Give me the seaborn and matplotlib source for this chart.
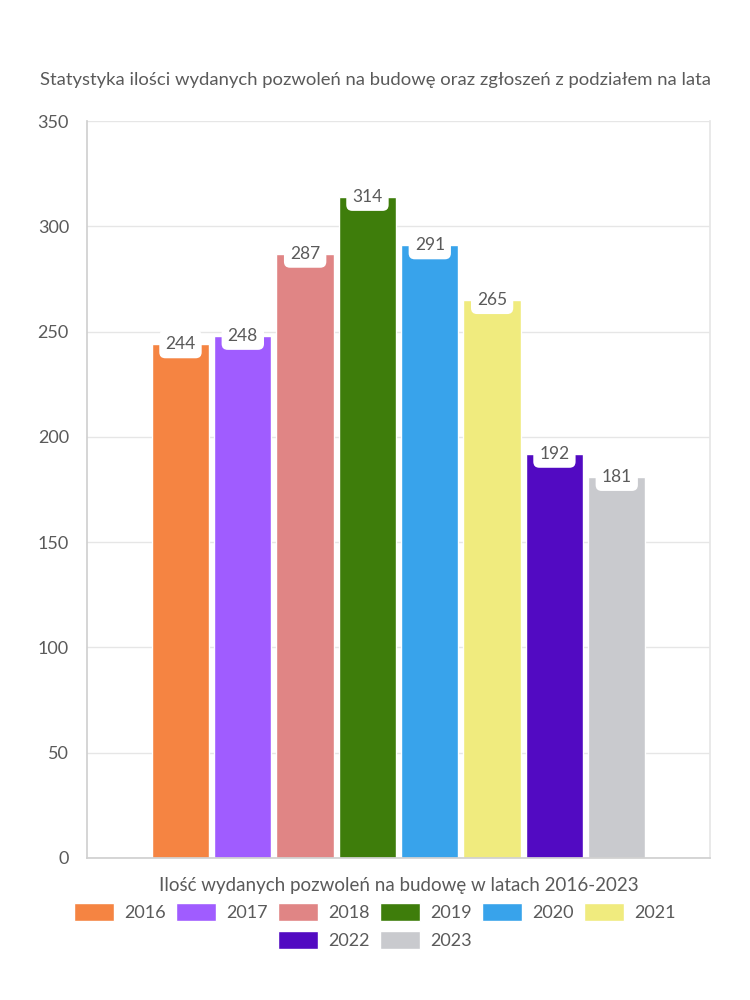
import matplotlib
matplotlib.use("Agg")
import matplotlib.pyplot as plt
import seaborn as sns
import pandas as pd

years = ["2016", "2017", "2018", "2019", "2020", "2021", "2022", "2023"]
values = [244, 248, 287, 314, 291, 265, 192, 181]
colors = ["#F58442", "#A05CFF", "#E08585", "#3E7D0B", "#38A3EB", "#F0EB7E", "#520AC2", "#C9CACE"]
group = "Ilość wydanych pozwoleń na budowę w latach 2016-2023"
title = "Statystyka ilości wydanych pozwoleń na budowę oraz zgłoszeń z podziałem na lata"
yticks = [0, 50, 100, 150, 200, 250, 300, 350]

df = pd.DataFrame({"grp": [group] * len(years), "year": years, "value": values})

sns.set_theme(style="white")
plt.rcParams["font.family"] = ["Lato", "DejaVu Sans"]
txt = "#5a5a5a"

fig = plt.figure(figsize=(7.5, 10), dpi=100)
ax = fig.add_axes([0.116, 0.142, 0.831, 0.737])

sns.barplot(data=df, x="grp", y="value", hue="year", palette=colors,
            width=0.8, gap=0.08, ax=ax, saturation=1, legend=True)

ax.set_ylim(0, 350)
ax.set_xlim(-0.5, 0.5)
ax.set_yticks(yticks)
ax.set_yticklabels([str(t) for t in yticks], fontsize=13, color=txt)
ax.tick_params(axis="y", length=10, color="#d0d0d0", width=1, pad=3)
ax.set_xticks([-0.5, 0.5])
ax.set_xticklabels(["", ""])
ax.tick_params(axis="x", length=8, color="#d0d0d0", width=1)
ax.yaxis.grid(True, color="#e6e6e6", linewidth=1)
ax.set_axisbelow(True)
ax.spines["left"].set_color("#d0d0d0")
ax.spines["bottom"].set_color("#d0d0d0")
ax.spines["right"].set_color("#e6e6e6")
ax.spines["top"].set_visible(False)
ax.set_ylabel("")
ax.set_xlabel(group, fontsize=13.5, color=txt, labelpad=2)

for cont in ax.containers:
    for bar in cont:
        h = bar.get_height()
        ax.annotate(f"{int(round(h))}", (bar.get_x() + bar.get_width() / 2, h),
                    ha="center", va="center", fontsize=12.5, color=txt,
                    bbox=dict(boxstyle="round,pad=0.35", fc="white", ec="none"))

handles, labels = ax.get_legend_handles_labels()
ax.get_legend().remove()

kw = dict(frameon=False, fontsize=13, handlelength=2.2, handleheight=1.15,
          handletextpad=0.6, columnspacing=0.55, labelcolor=txt)
fig.legend(handles[:6], labels[:6], ncol=6, loc="center",
           bbox_to_anchor=(0.5, 0.088), **kw)
fig.legend(handles[6:], labels[6:], ncol=2, loc="center",
           bbox_to_anchor=(0.5, 0.060), **kw)

fig.text(0.5, 0.92, title, ha="center", va="center", fontsize=13.3, color=txt)

fig.savefig("out.png", dpi=100, facecolor="white")
